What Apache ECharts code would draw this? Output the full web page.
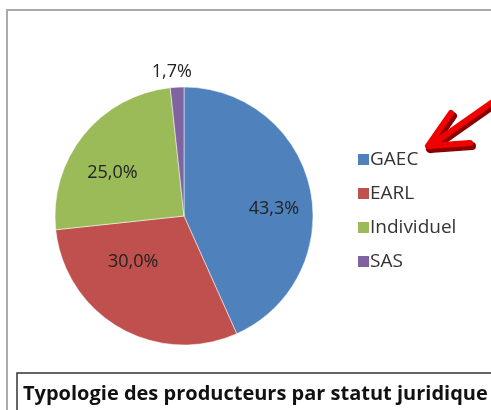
<!DOCTYPE html>
<html>
<head>
<meta charset="utf-8">
<script src="https://cdn.jsdelivr.net/npm/echarts@6/dist/echarts.min.js"></script>
<style>
  html, body { margin: 0; padding: 0; background: #fff; }
  #chart { width: 491px; height: 410px; }
</style>
</head>
<body>
<div id="chart"></div>
<script>
var myChart = echarts.init(document.getElementById('chart'), null, {renderer: 'canvas'});

// données (%)
var categories = ['GAEC', 'EARL', 'Individuel', 'SAS'];
var values = [43.3, 30.0, 25.0, 1.7];
var colors = ['#4F81BD', '#C0504D', '#9BBB59', '#8064A2'];
var titleText = 'Typologie des producteurs par statut juridique';

var font = '"Open Sans", "Noto Sans", sans-serif';

// décalage des étiquettes (placement "ajusté" façon Excel)
var labelShift = {
    'GAEC': [0, 12],
    'EARL': [-5, -34],
    'Individuel': [0, 15],
    'SAS': [20, -11]
};

function fmt(v) {
    return v.toFixed(1).replace('.', ',') + '%';
}

var pieData = categories.map(function (name, i) {
    return {name: name, value: values[i], itemStyle: {color: colors[i]}};
});

// série transparente qui porte les étiquettes
var labelData = categories.map(function (name, i) {
    var item = {name: name, value: values[i], label: {offset: labelShift[name]}};
    if (name === 'SAS') {
        item.label.position = 'outside';
        item.labelLine = {show: false, length: 4, length2: 0};
    }
    return item;
});

option = {
    animation: false,
    title: {
        text: titleText,
        left: 23,
        top: 384,
        padding: 0,
        textStyle: {
            fontFamily: font,
            fontWeight: 'bold',
            fontSize: 20,
            color: '#111'
        }
    },
    legend: {
        orient: 'vertical',
        left: 351,
        top: 145,
        itemWidth: 13,
        itemHeight: 13,
        itemGap: 15,
        icon: 'rect',
        data: categories,
        textStyle: {
            fontFamily: font,
            fontSize: 19,
            color: '#333',
            padding: [0, 0, 0, -5]
        }
    },
    graphic: [
        // cadre extérieur
        {type: 'rect', shape: {x: 7, y: 10, width: 500, height: 420},
            style: {fill: 'none', stroke: '#aaaaaa', lineWidth: 2}, z: 0},
        // cadre du titre
        {type: 'rect', shape: {x: 17, y: 373, width: 490, height: 60},
            style: {fill: 'none', stroke: '#333333', lineWidth: 1.5}, z: 0},
        // flèche rouge
        {type: 'polyline', shape: {points: [[498, 102], [431, 149]]},
            style: {stroke: '#8a0000', lineWidth: 8, lineCap: 'round'}, z: 5},
        {type: 'polyline', shape: {points: [[453, 116], [430, 149], [472, 146]]},
            style: {stroke: '#8a0000', lineWidth: 8, lineCap: 'round', lineJoin: 'round', fill: 'none'}, z: 5},
        {type: 'polyline', shape: {points: [[497, 99], [430, 146]]},
            style: {stroke: '#f00000', lineWidth: 6, lineCap: 'round'}, z: 6},
        {type: 'polyline', shape: {points: [[451, 113], [428, 146], [470, 143]]},
            style: {stroke: '#f00000', lineWidth: 6, lineCap: 'round', lineJoin: 'round', fill: 'none'}, z: 6}
    ],
    series: [
        {
            name: 'Statut',
            type: 'pie',
            center: [184, 216],
            radius: [0, 129],
            startAngle: 90,
            clockwise: true,
            label: {show: false},
            labelLine: {show: false},
            itemStyle: {borderColor: '#fff', borderWidth: 0.5},
            data: pieData
        },
        {
            name: 'Etiquettes',
            type: 'pie',
            center: [184, 216],
            radius: [49, 129],
            startAngle: 90,
            clockwise: true,
            silent: true,
            legendHoverLink: false,
            itemStyle: {color: 'rgba(0,0,0,0)'},
            label: {
                show: true,
                position: 'inside',
                fontFamily: font,
                fontSize: 18,
                color: '#222',
                formatter: function (p) { return fmt(p.value); }
            },
            labelLine: {show: false},
            data: labelData
        }
    ]
};

myChart.setOption(option);
</script>
</body>
</html>
